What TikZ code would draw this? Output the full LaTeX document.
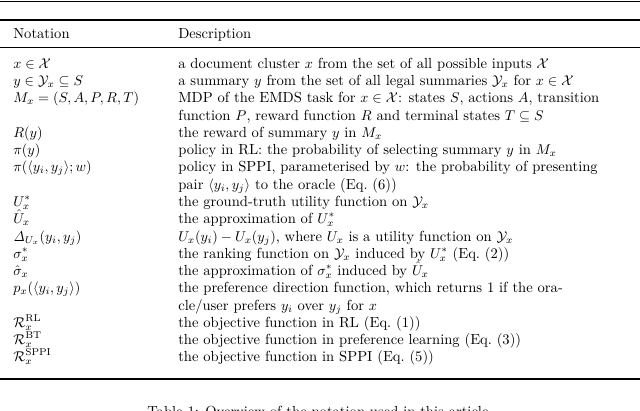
\documentclass[tikz,border=0pt]{standalone}
\usepackage{amsmath,amssymb}
\begin{document}
\begin{tikzpicture}[x=0.7059pt,y=-0.7059pt,
  n/.style={anchor=base west,inner sep=0pt,font=\fontsize{10.3}{12}\selectfont},
  rulethick/.style={line width=0.8pt},
  rulethin/.style={line width=0.45pt}]
\clip (0,0) rectangle (640,410);
\useasboundingbox (0,0) rectangle (640,410);
\draw[rulethin] (0,1.5) -- (640,1.5);
\draw[rulethick] (0,20) -- (640,20);
\draw[rulethin] (0,47) -- (640,47);
\draw[rulethick] (0,379) -- (640,379);
\def\nx{13}\def\dx{178}
\node[n] (h1) at (\nx,38) {Notation};
\node[n] (h2) at (\dx,38) {Description};
\node[n] (a1) at (\nx,68) {$x\in\mathcal{X}$};
\node[n] (b1) at (\dx,68) {a document cluster $x$ from the set of all possible inputs $\mathcal{X}$};
\node[n] (a2) at (\nx,85) {$y\in\mathcal{Y}_x\subseteq S$};
\node[n] (b2) at (\dx,85) {a summary $y$ from the set of all legal summaries $\mathcal{Y}_x$ for $x\in\mathcal{X}$};
\node[n] (a3) at (\nx,102) {$M_x=(S,A,P,R,T)$};
\node[n] (b3) at (\dx,102) {MDP of the EMDS task for $x\in\mathcal{X}$: states $S$, actions $A$, transition};
\node[n] (b3b) at (\dx,120) {function $P$, reward function $R$ and terminal states $T\subseteq S$};
\node[n] (a4) at (\nx,137) {$R(y)$};
\node[n] (b4) at (\dx,137) {the reward of summary $y$ in $M_x$};
\node[n] (a5) at (\nx,154) {$\pi(y)$};
\node[n] (b5) at (\dx,154) {policy in RL: the probability of selecting summary $y$ in $M_x$};
\node[n] (a6) at (\nx,171) {$\pi(\langle y_i,y_j\rangle;w)$};
\node[n] (b6) at (\dx,171) {policy in SPPI, parameterised by $w$: the probability of presenting};
\node[n] (b6b) at (\dx,189) {pair $\langle y_i,y_j\rangle$ to the oracle (Eq.~(6))};
\node[n] (a7) at (\nx,206) {$U^*_x$};
\node[n] (b7) at (\dx,206) {the ground-truth utility function on $\mathcal{Y}_x$};
\node[n] (a8) at (\nx,223) {$\hat{U}_x$};
\node[n] (b8) at (\dx,223) {the approximation of $U^*_x$};
\node[n] (a9) at (\nx,241) {$\mathit{\Delta}_{U_x}(y_i,y_j)$};
\node[n] (b9) at (\dx,241) {$U_x(y_i)-U_x(y_j)$, where $U_x$ is a utility function on $\mathcal{Y}_x$};
\node[n] (a10) at (\nx,258) {$\sigma^*_x$};
\node[n] (b10) at (\dx,258) {the ranking function on $\mathcal{Y}_x$ induced by $U^*_x$ (Eq.~(2))};
\node[n] (a11) at (\nx,275) {$\hat{\sigma}_x$};
\node[n] (b11) at (\dx,275) {the approximation of $\sigma^*_x$ induced by $\hat{U}_x$};
\node[n] (a12) at (\nx,292) {$p_x(\langle y_i,y_j\rangle)$};
\node[n] (b12) at (\dx,292) {the preference direction function, which returns 1 if the ora-};
\node[n] (b12b) at (\dx,310) {cle/user prefers $y_i$ over $y_j$ for $x$};
\node[n] (a13) at (\nx,327) {$\mathcal{R}^{\mathrm{RL}}_x$};
\node[n] (b13) at (\dx,327) {the objective function in RL (Eq.~(1))};
\node[n] (a14) at (\nx,344) {$\mathcal{R}^{\mathrm{BT}}_x$};
\node[n] (b14) at (\dx,344) {the objective function in preference learning (Eq.~(3))};
\node[n] (a15) at (\nx,361) {$\mathcal{R}^{\mathrm{SPPI}}_x$};
\node[n] (b15) at (\dx,361) {the objective function in SPPI (Eq.~(5))};
\node[anchor=base,inner sep=0pt,font=\fontsize{10.3}{12}\selectfont] (cap) at (320,416) {Table 1: Overview of the notation used in this article.};
\end{tikzpicture}
\end{document}
